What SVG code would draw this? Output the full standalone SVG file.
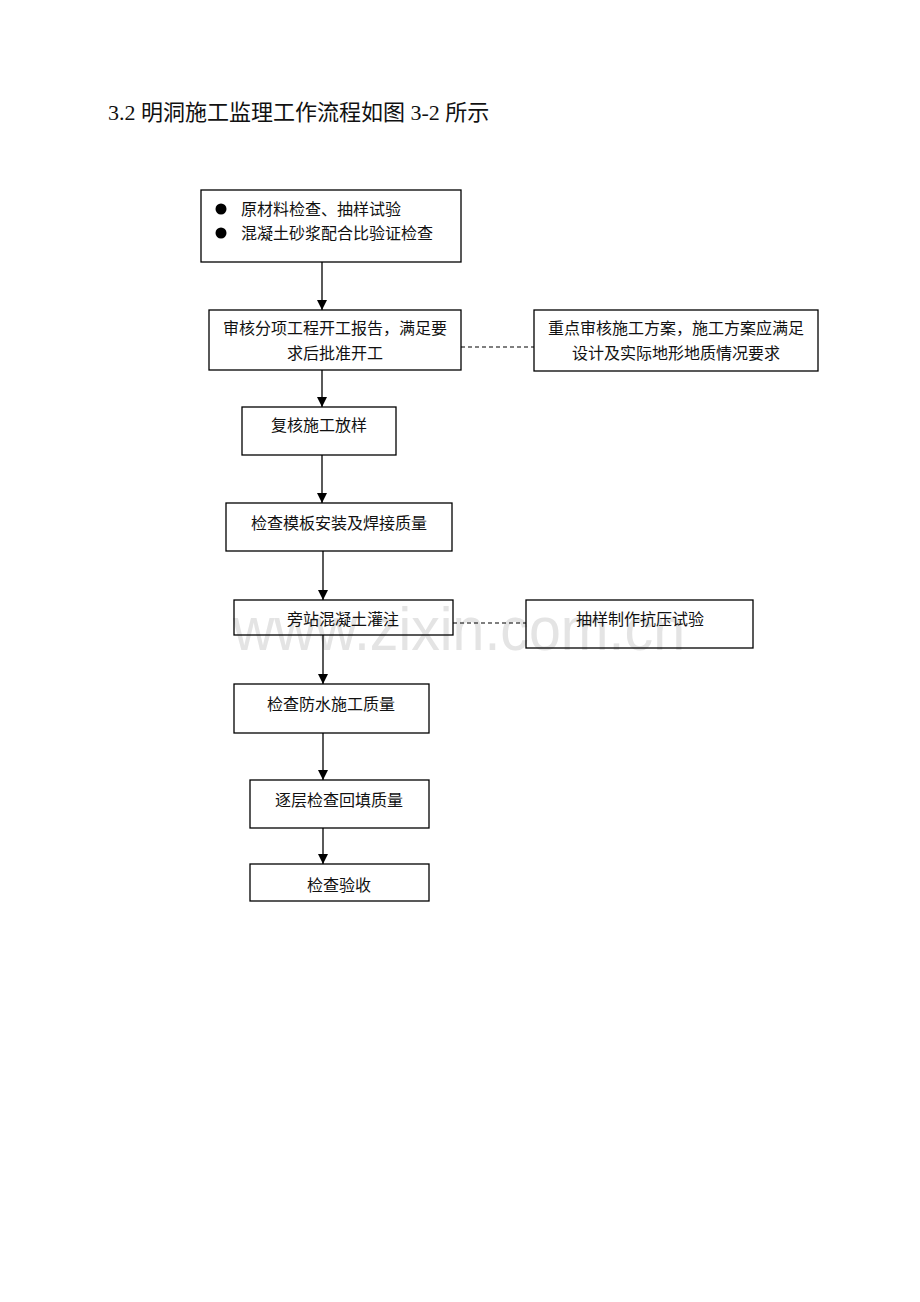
<svg xmlns="http://www.w3.org/2000/svg" width="920" height="1302" viewBox="0 0 920 1302">
<style>
.box{fill:none;stroke:#000;stroke-width:1.3}
.t{font-family:"Liberation Serif","Noto Sans CJK SC",serif;font-size:16px;fill:#111}
.c{text-anchor:middle}
.ln{stroke:#000;stroke-width:1.3;fill:none}
.dash{stroke:#000;stroke-width:1.2;stroke-dasharray:4,3;fill:none}
.wm{font-family:"Liberation Sans",Arial,sans-serif;font-size:62px;fill:#e4e4e4}
</style>
<defs>
<marker id="ah" viewBox="0 0 10 10" refX="10" refY="5" markerWidth="10" markerHeight="10" markerUnits="userSpaceOnUse" orient="auto">
<path d="M0,0 L10,5 L0,10 z" fill="#000"/>
</marker>
</defs>
<rect width="920" height="1302" fill="#fff"/>
<text x="233" y="650" class="wm" textLength="452" lengthAdjust="spacingAndGlyphs">www.zixin.com.cn</text>
<text x="108" y="120" style="font-family:'Liberation Serif','Noto Sans CJK SC',serif;font-size:22px;fill:#111">3.2 明洞施工监理工作流程如图 3-2 所示</text>
<g id="connectors">
<line class="ln" x1="322" y1="262" x2="322" y2="310" marker-end="url(#ah)"/>
<line class="ln" x1="322" y1="370" x2="322" y2="407" marker-end="url(#ah)"/>
<line class="ln" x1="322" y1="455" x2="322" y2="503" marker-end="url(#ah)"/>
<line class="ln" x1="323" y1="551" x2="323" y2="600" marker-end="url(#ah)"/>
<line class="ln" x1="323" y1="635" x2="323" y2="684" marker-end="url(#ah)"/>
<line class="ln" x1="323" y1="733" x2="323" y2="780" marker-end="url(#ah)"/>
<line class="ln" x1="323" y1="828" x2="323" y2="864" marker-end="url(#ah)"/>
<line class="dash" x1="461" y1="347" x2="534" y2="347"/>
<line class="dash" x1="453" y1="623" x2="526" y2="623"/>
</g>
<g id="n1">
<rect class="box" x="201" y="190" width="260" height="72"/>
<circle cx="221" cy="209" r="5.5" fill="#000"/>
<circle cx="221" cy="233" r="5.5" fill="#000"/>
<text class="t" x="241" y="215">原材料检查、抽样试验</text>
<text class="t" x="241" y="239">混凝土砂浆配合比验证检查</text>
</g>
<g id="n2">
<rect class="box" x="209" y="310" width="252" height="60"/>
<text class="t c" x="335" y="334">审核分项工程开工报告，满足要</text>
<text class="t c" x="335" y="359">求后批准开工</text>
</g>
<g id="n3">
<rect class="box" x="534" y="310" width="284" height="61"/>
<text class="t c" x="676" y="334">重点审核施工方案，施工方案应满足</text>
<text class="t c" x="676" y="359">设计及实际地形地质情况要求</text>
</g>
<g id="n4">
<rect class="box" x="242" y="407" width="154" height="48"/>
<text class="t c" x="319" y="431">复核施工放样</text>
</g>
<g id="n5">
<rect class="box" x="226" y="503" width="226" height="48"/>
<text class="t c" x="339" y="529">检查模板安装及焊接质量</text>
</g>
<g id="n6">
<rect class="box" x="234" y="600" width="219" height="35"/>
<text class="t c" x="343" y="625">旁站混凝土灌注</text>
</g>
<g id="n7">
<rect class="box" x="526" y="600" width="227" height="48"/>
<text class="t c" x="640" y="625">抽样制作抗压试验</text>
</g>
<g id="n8">
<rect class="box" x="234" y="684" width="195" height="49"/>
<text class="t c" x="331" y="710">检查防水施工质量</text>
</g>
<g id="n9">
<rect class="box" x="250" y="780" width="179" height="48"/>
<text class="t c" x="339" y="806">逐层检查回填质量</text>
</g>
<g id="n10">
<rect class="box" x="250" y="864" width="179" height="37"/>
<text class="t c" x="339" y="891">检查验收</text>
</g>
</svg>
